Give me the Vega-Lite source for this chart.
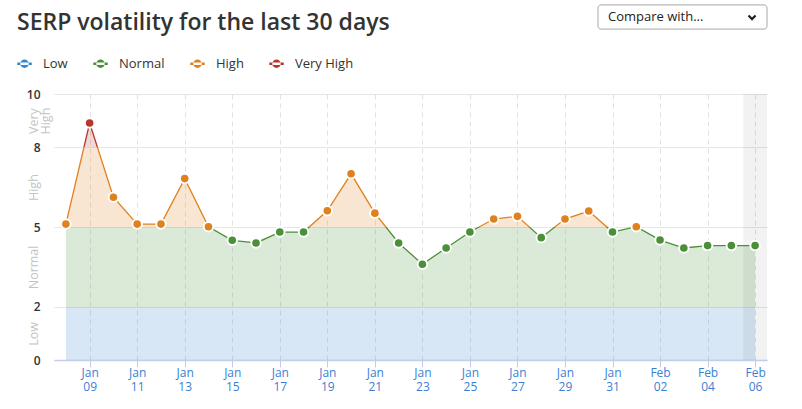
{
  "$schema": "https://vega.github.io/schema/vega-lite/v6.json",
  "width": 713,
  "height": 266,
  "autosize": {"type": "none"},
  "padding": {"left": 54, "top": 94, "right": 35, "bottom": 49},
  "background": "white",
  "config": {"font": "Open Sans", "view": {"stroke": null}},
  "title": {
    "text": "SERP volatility for the last 30 days",
    "anchor": "start",
    "frame": "group",
    "fontSize": 23,
    "fontWeight": 600,
    "color": "#333333",
    "dx": -37,
    "dy": 35
  },
  "datasets": {
    "serp": [
      {"date": "2023-01-08T00:00:00", "value": 5.11, "level": "High"},
      {"date": "2023-01-09T00:00:00", "value": 8.91, "level": "Very High"},
      {"date": "2023-01-10T00:00:00", "value": 6.12, "level": "High"},
      {"date": "2023-01-11T00:00:00", "value": 5.11, "level": "High"},
      {"date": "2023-01-12T00:00:00", "value": 5.11, "level": "High"},
      {"date": "2023-01-13T00:00:00", "value": 6.82, "level": "High"},
      {"date": "2023-01-14T00:00:00", "value": 5.01, "level": "High"},
      {"date": "2023-01-15T00:00:00", "value": 4.5, "level": "Normal"},
      {"date": "2023-01-16T00:00:00", "value": 4.4, "level": "Normal"},
      {"date": "2023-01-17T00:00:00", "value": 4.81, "level": "Normal"},
      {"date": "2023-01-18T00:00:00", "value": 4.81, "level": "Normal"},
      {"date": "2023-01-19T00:00:00", "value": 5.61, "level": "High"},
      {"date": "2023-01-20T00:00:00", "value": 7.0, "level": "High"},
      {"date": "2023-01-21T00:00:00", "value": 5.52, "level": "High"},
      {"date": "2023-01-22T00:00:00", "value": 4.4, "level": "Normal"},
      {"date": "2023-01-23T00:00:00", "value": 3.6, "level": "Normal"},
      {"date": "2023-01-24T00:00:00", "value": 4.21, "level": "Normal"},
      {"date": "2023-01-25T00:00:00", "value": 4.81, "level": "Normal"},
      {"date": "2023-01-26T00:00:00", "value": 5.3, "level": "High"},
      {"date": "2023-01-27T00:00:00", "value": 5.4, "level": "High"},
      {"date": "2023-01-28T00:00:00", "value": 4.6, "level": "Normal"},
      {"date": "2023-01-29T00:00:00", "value": 5.3, "level": "High"},
      {"date": "2023-01-30T00:00:00", "value": 5.6, "level": "High"},
      {"date": "2023-01-31T00:00:00", "value": 4.81, "level": "Normal"},
      {"date": "2023-02-01T00:00:00", "value": 5.01, "level": "High"},
      {"date": "2023-02-02T00:00:00", "value": 4.51, "level": "Normal"},
      {"date": "2023-02-03T00:00:00", "value": 4.21, "level": "Normal"},
      {"date": "2023-02-04T00:00:00", "value": 4.3, "level": "Normal"},
      {"date": "2023-02-05T00:00:00", "value": 4.3, "level": "Normal"},
      {"date": "2023-02-06T00:00:00", "value": 4.3, "level": "Normal"}
    ],
    "today": [
      {"date": "2023-02-05T12:00:00", "date_end": "2023-02-06T12:00:00"}
    ]
  },
  "resolve": {"axis": {"y": "independent"}},
  "layer": [
    {
      "data": {"name": "serp"},
      "mark": {
        "type": "area",
        "interpolate": "linear",
        "fillOpacity": 0.2,
        "fill": {
          "gradient": "linear",
          "x1": 0, "y1": 0, "x2": 0, "y2": 1,
          "stops": [
            {"offset": 0, "color": "#b8372c"},
            {"offset": 0.1021, "color": "#b8372c"},
            {"offset": 0.1021, "color": "#e0811f"},
            {"offset": 0.4388, "color": "#e0811f"},
            {"offset": 0.4388, "color": "#4a9038"},
            {"offset": 0.7755, "color": "#4a9038"},
            {"offset": 0.7755, "color": "#3a86c8"},
            {"offset": 1, "color": "#3a86c8"}
          ]
        }
      },
      "encoding": {
        "x": {
          "field": "date",
          "type": "temporal",
          "title": null,
          "scale": {
            "domain": [
              {"year": 2023, "month": 1, "date": 7, "hours": 12},
              {"year": 2023, "month": 2, "date": 6, "hours": 12}
            ]
          },
          "axis": {
            "values": [
              {"year": 2023, "month": 1, "date": 9},
              {"year": 2023, "month": 1, "date": 11},
              {"year": 2023, "month": 1, "date": 13},
              {"year": 2023, "month": 1, "date": 15},
              {"year": 2023, "month": 1, "date": 17},
              {"year": 2023, "month": 1, "date": 19},
              {"year": 2023, "month": 1, "date": 21},
              {"year": 2023, "month": 1, "date": 23},
              {"year": 2023, "month": 1, "date": 25},
              {"year": 2023, "month": 1, "date": 27},
              {"year": 2023, "month": 1, "date": 29},
              {"year": 2023, "month": 1, "date": 31},
              {"year": 2023, "month": 2, "date": 2},
              {"year": 2023, "month": 2, "date": 4},
              {"year": 2023, "month": 2, "date": 6}
            ],
            "labelExpr": "[timeFormat(datum.value, '%b'), timeFormat(datum.value, '%d')]",
            "labelColor": "#3a7fd5",
            "labelFontSize": 12,
            "labelLineHeight": 14,
            "labelPadding": 0,
            "labelFlush": false,
            "labelOverlap": false,
            "domainColor": "#c3cde8",
            "domainWidth": 1.5,
            "tickColor": "#c3cde8",
            "tickSize": 7,
            "grid": true,
            "gridColor": "#e2e2e2",
            "gridDash": [5, 4],
            "gridWidth": 1
          }
        },
        "y": {
          "field": "value",
          "type": "quantitative",
          "title": null,
          "scale": {"domain": [0, 10], "nice": false, "zero": true},
          "axis": {
            "orient": "left",
            "values": [0, 2, 5, 8, 10],
            "domain": false,
            "ticks": false,
            "labelPadding": 14,
            "labelColor": "#333333",
            "labelFontSize": 12,
            "labelFontWeight": 600,
            "labelFlush": false,
            "grid": true,
            "gridColor": "#e6e6e6",
            "gridWidth": 1
          }
        },
        "y2": {"datum": 0}
      }
    },
    {
      "data": {"name": "today"},
      "mark": {"type": "rect", "fill": "#000000", "fillOpacity": 0.05},
      "encoding": {
        "x": {"field": "date", "type": "temporal", "title": null},
        "x2": {"field": "date_end"},
        "y": {"datum": 0, "type": "quantitative", "axis": null},
        "y2": {"datum": 10}
      }
    },
    {
      "data": {"name": "serp"},
      "mark": {
        "type": "line",
        "interpolate": "linear",
        "strokeWidth": 1.3,
        "stroke": {
          "gradient": "linear",
          "x1": 0, "y1": 0, "x2": 0, "y2": 1,
          "stops": [
            {"offset": 0, "color": "#b8372c"},
            {"offset": 0.1714, "color": "#b8372c"},
            {"offset": 0.1714, "color": "#e0811f"},
            {"offset": 0.7363, "color": "#e0811f"},
            {"offset": 0.7363, "color": "#4a9038"},
            {"offset": 1, "color": "#4a9038"}
          ]
        }
      },
      "encoding": {
        "x": {"field": "date", "type": "temporal", "title": null},
        "y": {
          "field": "value",
          "type": "quantitative",
          "title": null,
          "axis": {
            "orient": "left",
            "values": [1, 3.5, 6.5, 9],
            "labelExpr": "datum.value == 1 ? 'Low' : datum.value == 3.5 ? 'Normal' : datum.value == 6.5 ? 'High' : ['Very', 'High']",
            "labelAngle": 270,
            "labelAlign": "center",
            "labelBaseline": "alphabetic",
            "labelLineHeight": 12,
            "labelPadding": 17,
            "labelColor": "#c4c4c4",
            "labelFontSize": 12.5,
            "labelOverlap": false,
            "labelFlush": false,
            "labelBound": false,
            "domain": false,
            "ticks": false,
            "grid": false
          }
        }
      }
    },
    {
      "data": {"name": "serp"},
      "mark": {"type": "circle", "size": 130, "opacity": 1, "color": "white"},
      "encoding": {
        "x": {"field": "date", "type": "temporal", "title": null},
        "y": {"field": "value", "type": "quantitative", "title": null, "axis": null}
      }
    },
    {
      "data": {"name": "serp"},
      "mark": {"type": "circle", "size": 58, "opacity": 1},
      "encoding": {
        "x": {"field": "date", "type": "temporal", "title": null},
        "y": {"field": "value", "type": "quantitative", "title": null, "axis": null},
        "color": {
          "field": "level",
          "type": "nominal",
          "scale": {
            "domain": ["Low", "Normal", "High", "Very High"],
            "range": ["#3a86c8", "#4a9038", "#e0811f", "#b8372c"]
          },
          "legend": {
            "title": null,
            "orient": "none",
            "legendX": -37,
            "legendY": -38,
            "direction": "horizontal",
            "columns": 4,
            "columnPadding": 25,
            "symbolType": "M-1,-0.17H1V0.17H-1Z M-0.58,0A0.58,0.58,0,1,0,0.58,0A0.58,0.58,0,1,0,-0.58,0Z",
            "symbolSize": 210,
            "symbolStrokeWidth": 0,
            "symbolOpacity": 1,
            "labelOffset": 11,
            "labelFontSize": 13,
            "labelColor": "#333333"
          }
        }
      }
    },
    {
      "data": {"values": [{}]},
      "mark": {"type": "rect", "fill": "white", "stroke": "#a8a8a8", "strokeWidth": 1, "cornerRadius": 3},
      "encoding": {
        "x": {"datum": {"year": 2023, "month": 1, "date": 30, "hours": 9, "minutes": 20}, "type": "temporal"},
        "x2": {"datum": {"year": 2023, "month": 2, "date": 6, "hours": 12}},
        "y": {"datum": 12.44, "type": "quantitative", "axis": null},
        "y2": {"datum": 13.35}
      }
    },
    {
      "data": {"values": [{}]},
      "mark": {"type": "text", "text": "Compare with...", "align": "left", "baseline": "middle", "fontSize": 13, "color": "#222222"},
      "encoding": {
        "x": {"datum": {"year": 2023, "month": 1, "date": 30, "hours": 19, "minutes": 25}, "type": "temporal"},
        "y": {"datum": 12.89, "type": "quantitative", "axis": null}
      }
    },
    {
      "data": {"values": [{}]},
      "mark": {"type": "point", "shape": "M-1,-0.45L0,0.55L1,-0.45", "filled": false, "size": 50, "stroke": "#222222", "strokeWidth": 2.2, "opacity": 1},
      "encoding": {
        "x": {"datum": {"year": 2023, "month": 2, "date": 5, "hours": 20, "minutes": 53}, "type": "temporal"},
        "y": {"datum": 12.89, "type": "quantitative", "axis": null}
      }
    }
  ]
}
